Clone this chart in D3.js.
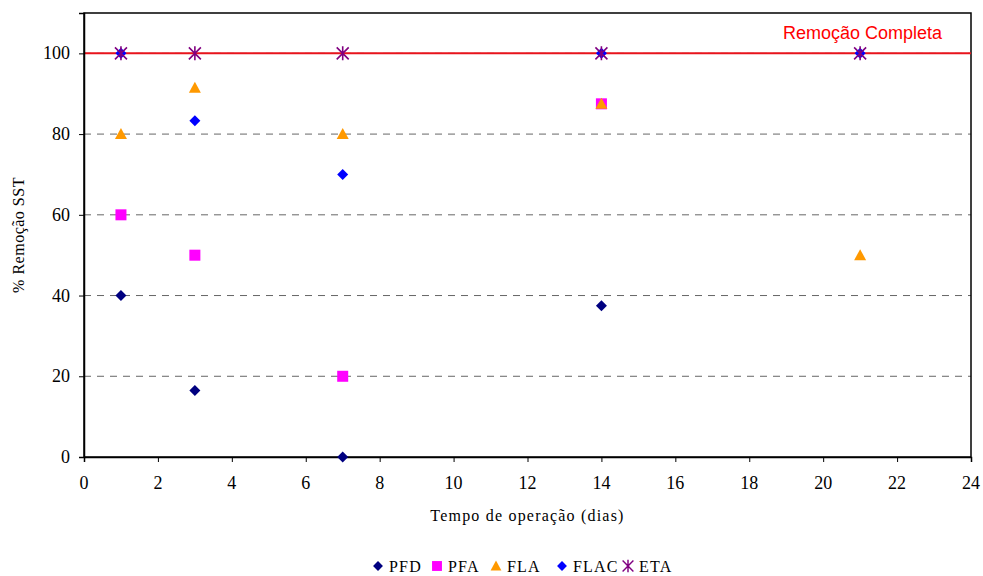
<!DOCTYPE html>
<html><head><meta charset="utf-8">
<script src="https://cdn.jsdelivr.net/npm/d3@7"></script>
<style>body{margin:0;background:#fff}svg{display:block}
text.lbl{font-family:'Liberation Serif','Times New Roman',Times,serif;fill:#000}
</style>
</head><body>
<svg id="c" width="983" height="576"></svg>
<script>
const xTicks = [0,2,4,6,8,10,12,14,16,18,20,22,24];
const yTicks = [0,20,40,60,80,100];
const seriesNames = ["PFD","PFA","FLA","FLAC","ETA"];
const pfdX = [1,3,7,14], pfdY = [40,16.5,0,37.5];
const pfaX = [1,3,7,14], pfaY = [60,50,20,87.5];
const flaX = [1,3,7,14,21], flaY = [80,91.5,80,87.5,50];
const flacX = [1,3,7,14,21], flacY = [100,83.3,70,100,100];
const etaX = [1,3,7,14,21], etaY = [100,100,100,100,100];
const refValue = 100, refLabel = "Remoção Completa";

const svg = d3.select("#c");
const L=84,R=971,T=13,B=457;
const x = d3.scaleLinear().domain([0,24]).range([L,R]);
const y = d3.scaleLinear().domain([0,110]).range([B,T]);

svg.append("g").selectAll("line").data(yTicks.filter(v=>v>0)).join("line")
  .attr("x1",L).attr("x2",R).attr("y1",d=>y(d)).attr("y2",d=>y(d))
  .attr("stroke","#666").attr("stroke-width",1).attr("stroke-dasharray","7,6");

svg.append("rect").attr("x",L).attr("y",T).attr("width",R-L).attr("height",B-T)
  .attr("fill","none").attr("stroke","#000").attr("stroke-width",1.5);

svg.append("line").attr("x1",L).attr("x2",R).attr("y1",y(refValue)).attr("y2",y(refValue))
  .attr("stroke","#e8141c").attr("stroke-width",2);
svg.append("text").attr("x",942).attr("y",y(refValue)-14).attr("text-anchor","end")
  .style("font-family","'Liberation Sans', Arial, sans-serif").style("font-size","18px")
  .attr("fill","#ff0000").text(refLabel);

const xa = svg.append("g").attr("transform",`translate(0,${B})`)
  .call(d3.axisBottom(x).tickValues(xTicks).tickSize(5).tickFormat(""));
const ya = svg.append("g").attr("transform",`translate(${L},0)`)
  .call(d3.axisLeft(y).tickValues(yTicks).tickSize(5).tickFormat(""));
[xa,ya].forEach(a=>{
  a.select(".domain").attr("stroke","#000").attr("stroke-width",1.5);
  a.selectAll(".tick line").attr("stroke","#000");
  a.selectAll(".tick text").remove();
});
svg.append("g").attr("class","xlabels").selectAll("text").data(xTicks).join("text").attr("class","lbl")
  .attr("x",d=>x(d)).attr("y",B+32).attr("text-anchor","middle")
  .attr("font-size",18).style("font-size","18px").text(d=>String(d));
svg.append("g").attr("class","ylabels").selectAll("text").data(yTicks).join("text").attr("class","lbl")
  .attr("x",L-14).attr("y",d=>y(d)+6).attr("text-anchor","end")
  .attr("font-size",18).style("font-size","18px").text(d=>String(d));

svg.append("text").attr("class","lbl").attr("x",(L+R)/2).attr("y",521).attr("text-anchor","middle")
  .style("font-size","16px").style("letter-spacing","1.2px").text("Tempo de operação (dias)");
svg.append("text").attr("class","lbl").attr("transform",`translate(24,${(T+B)/2}) rotate(-90)`).attr("text-anchor","middle")
  .style("font-size","16px").style("letter-spacing","0.5px").text("% Remoção SST");

function marker(g, type, color){
  if(type==="diamond") g.append("path").attr("d","M0,-5.5L5.5,0L0,5.5L-5.5,0Z").attr("fill",color);
  else if(type==="square") g.append("rect").attr("x",-5.5).attr("y",-5.5).attr("width",11).attr("height",11).attr("fill",color);
  else if(type==="triangle") g.append("path").attr("d","M0,-6L6,5L-6,5Z").attr("fill",color);
  else if(type==="star"){
    g.append("path").attr("d","M-6,-6L6,6M-6,6L6,-6M0,-7L0,7").attr("stroke",color).attr("stroke-width",1.6).attr("fill","none");
  }
}
const series = [
  {name:seriesNames[0], xs:pfdX, ys:pfdY, type:"diamond", color:"#000080"},
  {name:seriesNames[1], xs:pfaX, ys:pfaY, type:"square", color:"#ff00ff"},
  {name:seriesNames[2], xs:flaX, ys:flaY, type:"triangle", color:"#ff9900"},
  {name:seriesNames[3], xs:flacX, ys:flacY, type:"diamond", color:"#0000ff"},
  {name:seriesNames[4], xs:etaX, ys:etaY, type:"star", color:"#800080"}
];
series.forEach(s=>{
  s.xs.forEach((xv,i)=>{
    const g = svg.append("g").attr("transform",`translate(${x(xv)},${y(s.ys[i])})`);
    marker(g,s.type,s.color);
  });
});

const legX = [378,437,496,562,628];
series.forEach((s,i)=>{
  const g = svg.append("g").attr("transform",`translate(${legX[i]},566)`);
  const mg = g.append("g").attr("transform","scale(0.9)");
  marker(mg,s.type,s.color);
  g.append("text").attr("class","lbl").attr("x",11).attr("y",5.5)
    .style("font-size","16px").style("letter-spacing","1.2px").text(s.name);
});
</script>
</body></html>
